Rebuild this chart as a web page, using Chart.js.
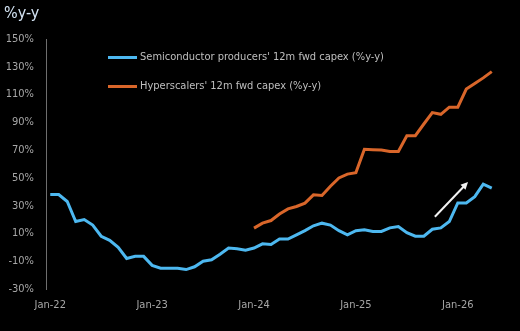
<!DOCTYPE html>
<html lang="en">
<head>
  <meta charset="UTF-8">
  <title>Capex growth</title>
  <script src="https://cdn.jsdelivr.net/npm/chart.js"></script>
  <style>
    html, body {
      margin: 0;
      padding: 0;
      background: #000;
    }
    #wrap {
      position: relative;
      width: 520px;
      height: 331px;
    }
    #unit {
      position: absolute;
      left: 4px;
      top: 3px;
      font-family: "Liberation Sans Narrow", "DejaVu Sans Condensed", sans-serif;
      font-size: 16px;
      color: #d4e4f4;
    }
    .leg {
      position: absolute;
      left: 108px;
      font-family: "Liberation Sans Narrow", "DejaVu Sans Condensed", sans-serif;
      font-size: 11px;
      color: #bfbfbf;
      white-space: nowrap;
    }
    .leg span {
      display: inline-block;
      width: 29px;
      height: 3px;
      vertical-align: middle;
      margin-right: 3px;
    }
  </style>
</head>
<body>
  <div id="wrap">
    <canvas id="capexChart" width="520" height="331"></canvas>
    <div id="unit">%y-y</div>
    <div class="leg" style="top:50px"><span style="background:#4db8f0"></span>Semiconductor producers' 12m fwd capex (%y-y)</div>
    <div class="leg" style="top:79px"><span style="background:#d9662a"></span>Hyperscalers' 12m fwd capex (%y-y)</div>
  </div>

  <script>
    // months Jan-22 .. May-26
    const months = [
      'Jan-22','Feb-22','Mar-22','Apr-22','May-22','Jun-22','Jul-22','Aug-22','Sep-22','Oct-22','Nov-22','Dec-22',
      'Jan-23','Feb-23','Mar-23','Apr-23','May-23','Jun-23','Jul-23','Aug-23','Sep-23','Oct-23','Nov-23','Dec-23',
      'Jan-24','Feb-24','Mar-24','Apr-24','May-24','Jun-24','Jul-24','Aug-24','Sep-24','Oct-24','Nov-24','Dec-24',
      'Jan-25','Feb-25','Mar-25','Apr-25','May-25','Jun-25','Jul-25','Aug-25','Sep-25','Oct-25','Nov-25','Dec-25',
      'Jan-26','Feb-26','Mar-26','Apr-26','May-26'
    ];
    const xTickLabels = ['Jan-22', 'Jan-23', 'Jan-24', 'Jan-25', 'Jan-26'];

    const semis = [
      38, 38, 33, 18.6, 20, 16, 8, 5, 0, -8, -6.5, -6.5,
      -13, -15, -15, -15, -16, -14, -10, -9, -5, -0.5, -1, -2,
      -0.5, 2.5, 2, 6, 6, 9, 12, 15.5, 17.4, 16, 12, 9,
      12, 12.6, 11.4, 11.4, 14, 15, 10.6, 8, 8, 13, 14, 18.6,
      32, 32, 36.5, 45.5, 42.6
    ];
    // hyperscalers series starts Jan-24
    const hyperscalers = [
      null, null, null, null, null, null, null, null, null, null, null, null,
      null, null, null, null, null, null, null, null, null, null, null, null,
      13.8, 17.4, 19.3, 24, 27.7, 29.4, 31.8, 37.8, 37.3, 44, 50, 52.7,
      53.8, 70.6, 70.3, 70, 69, 69, 80.4, 80.4, 88.8, 97, 95.8, 100.9,
      100.9, 114, 118, 122, 126.5
    ];

    // arrow: [month index, value] from -> to
    const arrowFrom = [45.3, 22];
    const arrowTo = [49.2, 47];

    const arrowPlugin = {
      id: 'arrow',
      afterDatasetsDraw(chart) {
        const { ctx, scales: { x, y } } = chart;
        const x0 = x.getPixelForValue(arrowFrom[0]), y0 = y.getPixelForValue(arrowFrom[1]);
        const x1 = x.getPixelForValue(arrowTo[0]), y1 = y.getPixelForValue(arrowTo[1]);
        const ang = Math.atan2(y1 - y0, x1 - x0);
        const head = 8;
        ctx.save();
        ctx.strokeStyle = '#f2f2f2';
        ctx.fillStyle = '#f2f2f2';
        ctx.lineWidth = 2;
        ctx.beginPath();
        ctx.moveTo(x0, y0);
        ctx.lineTo(x1 - Math.cos(ang) * head * 0.8, y1 - Math.sin(ang) * head * 0.8);
        ctx.stroke();
        ctx.beginPath();
        ctx.moveTo(x1, y1);
        ctx.lineTo(x1 - head * Math.cos(ang - 0.45), y1 - head * Math.sin(ang - 0.45));
        ctx.lineTo(x1 - head * Math.cos(ang + 0.45), y1 - head * Math.sin(ang + 0.45));
        ctx.closePath();
        ctx.fill();
        ctx.restore();
      }
    };

    const tickFont = { family: '"Liberation Sans Narrow", "DejaVu Sans Condensed", sans-serif', size: 11 };

    const ctx = document.getElementById('capexChart').getContext('2d');
    const chart = new Chart(ctx, {
      type: 'line',
      data: {
        labels: months,
        datasets: [{
          label: "Semiconductor producers' 12m fwd capex (%y-y)",
          data: semis,
          borderColor: '#4db8f0',
          borderWidth: 3,
          pointRadius: 0,
          tension: 0
        }, {
          label: "Hyperscalers' 12m fwd capex (%y-y)",
          data: hyperscalers,
          borderColor: '#d9662a',
          borderWidth: 3,
          pointRadius: 0,
          tension: 0
        }]
      },
      options: {
        responsive: false,
        animation: false,
        layout: { padding: { top: 39, right: 24, left: 0, bottom: 0 } },
        plugins: {
          legend: { display: false },
          tooltip: { enabled: false }
        },
        scales: {
          x: {
            offset: true,
            grid: { display: false, drawTicks: false },
            border: { display: false },
            afterFit(scale) { scale.height = 42; },
            ticks: {
              autoSkip: false,
              maxRotation: 0,
              padding: 10,
              color: '#a6a6a6',
              font: tickFont,
              callback(val) {
                const lab = this.getLabelForValue(val);
                return xTickLabels.includes(lab) ? lab : '';
              }
            }
          },
          y: {
            min: -30,
            max: 150,
            afterFit(scale) { scale.width = 46; },
            border: { display: true, color: '#6e6e6e', width: 1 },
            grid: {
              drawTicks: false,
              color: (c) => c.tick && c.tick.value === 0 ? '#8c8c8c' : 'transparent',
              lineWidth: 1
            },
            ticks: {
              stepSize: 20,
              padding: 12,
              color: '#a6a6a6',
              font: tickFont,
              callback: (v) => v + '%'
            }
          }
        }
      },
      plugins: [arrowPlugin]
    });
  </script>
</body>
</html>
